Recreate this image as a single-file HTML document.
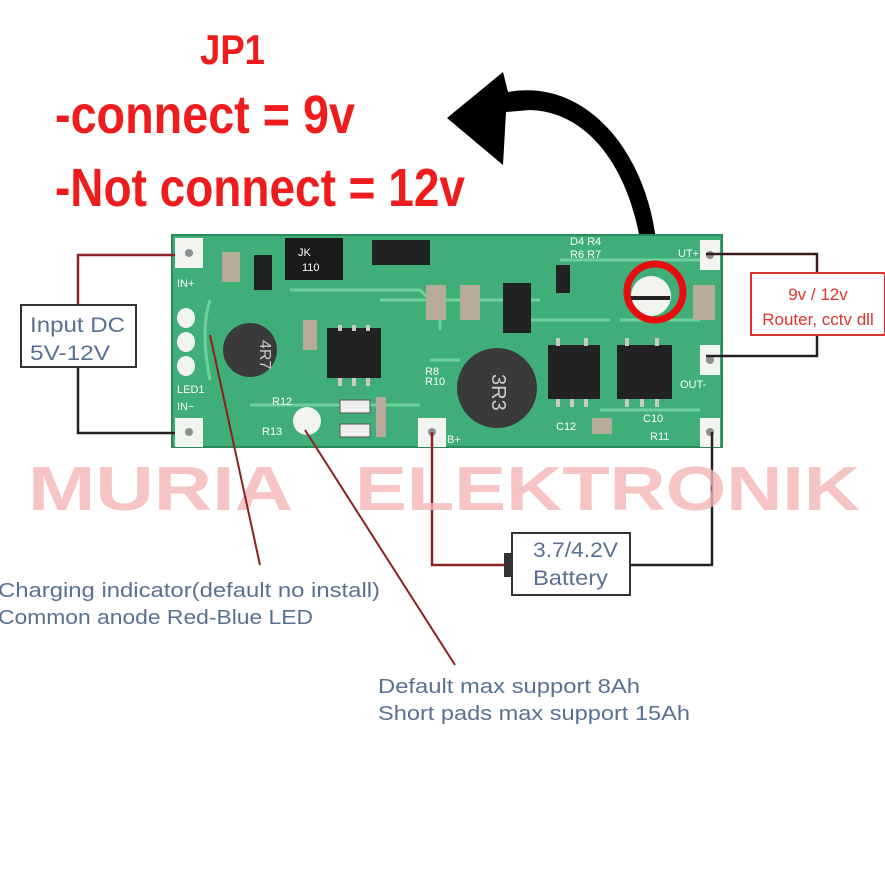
<!DOCTYPE html>
<html><head><meta charset="utf-8"><style>
html,body{margin:0;padding:0;background:#fff;width:885px;height:885px;overflow:hidden}
svg{display:block}
</style></head><body>
<svg width="885" height="885" viewBox="0 0 885 885" xmlns="http://www.w3.org/2000/svg">
<rect width="885" height="885" fill="#fff"/>
<g font-family="Liberation Sans Narrow, Liberation Sans, sans-serif" font-weight="bold" fill="#ee1c1c">
<text x="200" y="64" font-size="42" textLength="65" lengthAdjust="spacingAndGlyphs">JP1</text>
<text x="55" y="133" font-size="54" textLength="300" lengthAdjust="spacingAndGlyphs">-connect = 9v</text>
<text x="55" y="206" font-size="54" textLength="410" lengthAdjust="spacingAndGlyphs">-Not connect = 12v</text>
</g>
<path d="M640 240 C628 170 590 112 530 110 L506 112 L503 165 L447 118 L503 72 L508 92 C585 78 645 150 656 240 Z" fill="#000"/>
<rect x="172" y="235" width="550" height="212" fill="#3fae78" stroke="#2a8a5c" stroke-width="2"/>
<g fill="none" stroke="#6fd09d" stroke-width="3">
<path d="M210 300 Q200 330 210 380"/><path d="M290 290 L420 290 L440 310 L440 330"/><path d="M380 300 L540 300"/><path d="M560 260 L700 260"/><path d="M250 405 L420 405"/><path d="M620 320 L700 320"/><path d="M520 320 L610 320"/><path d="M430 360 L460 360"/><path d="M600 410 L700 410"/>
</g>
<g fill="#f2f4f0">
<rect x="175" y="238" width="28" height="30"/><rect x="175" y="418" width="28" height="29"/>
<rect x="700" y="240" width="20" height="30"/><rect x="700" y="345" width="20" height="30"/><rect x="700" y="418" width="20" height="29"/>
<rect x="418" y="418" width="28" height="29"/>
<ellipse cx="186" cy="318" rx="9" ry="10"/><ellipse cx="186" cy="342" rx="9" ry="10"/><ellipse cx="186" cy="366" rx="9" ry="10"/>
<circle cx="307" cy="421" r="14"/>
<circle cx="651" cy="296" r="20"/>
</g>
<g fill="#8a8f8f"><circle cx="189" cy="253" r="4"/><circle cx="189" cy="432" r="4"/><circle cx="710" cy="255" r="4"/><circle cx="710" cy="360" r="4"/><circle cx="710" cy="432" r="4"/><circle cx="432" cy="432" r="4"/></g>
<g fill="#222">
<rect x="285" y="238" width="58" height="42" fill="#1a1a1a"/>
<rect x="372" y="240" width="58" height="25"/>
<rect x="254" y="255" width="18" height="35"/>
<rect x="327" y="328" width="54" height="50"/>
<rect x="548" y="345" width="52" height="54"/>
<rect x="617" y="345" width="55" height="54"/>
<rect x="503" y="283" width="28" height="50"/>
<rect x="556" y="265" width="14" height="28"/>
<rect x="630" y="296" width="40" height="4"/>
</g>
<g fill="#c9c9c0"><rect x="338" y="325" width="4" height="6"/><rect x="352" y="325" width="4" height="6"/><rect x="366" y="325" width="4" height="6"/>
<rect x="338" y="378" width="4" height="8"/><rect x="352" y="378" width="4" height="8"/><rect x="366" y="378" width="4" height="8"/>
<rect x="556" y="399" width="4" height="8"/><rect x="570" y="399" width="4" height="8"/><rect x="584" y="399" width="4" height="8"/>
<rect x="625" y="399" width="4" height="8"/><rect x="640" y="399" width="4" height="8"/><rect x="655" y="399" width="4" height="8"/>
<rect x="556" y="338" width="4" height="8"/><rect x="584" y="338" width="4" height="8"/><rect x="625" y="338" width="4" height="8"/><rect x="655" y="338" width="4" height="8"/></g>
<g fill="#b8aa98"><rect x="222" y="252" width="18" height="30"/><rect x="426" y="285" width="20" height="35"/><rect x="460" y="285" width="20" height="35"/><rect x="303" y="320" width="14" height="30"/><rect x="376" y="397" width="10" height="40"/><rect x="693" y="285" width="22" height="35"/><rect x="592" y="418" width="20" height="16"/></g>
<g fill="#eee" stroke="#555" stroke-width="1"><rect x="340" y="400" width="30" height="13"/><rect x="340" y="424" width="30" height="13"/></g>
<circle cx="250" cy="350" r="27" fill="#3a3a3a"/>
<circle cx="497" cy="388" r="40" fill="#3a3a3a"/>
<g font-family="Liberation Sans, sans-serif" fill="#fff" font-size="11">
<text x="298" y="256">JK</text><text x="302" y="271">110</text>
<text x="177" y="287">IN+</text><text x="177" y="393">LED1</text><text x="177" y="410">IN−</text>
<text x="678" y="257">UT+</text><text x="680" y="388">OUT-</text><text x="447" y="443">B+</text>
<text x="272" y="405">R12</text><text x="262" y="435">R13</text><text x="425" y="375">R8</text><text x="425" y="385">R10</text>
<text x="570" y="245">D4  R4</text><text x="570" y="258">R6  R7</text><text x="643" y="422">C10</text><text x="650" y="440">R11</text><text x="556" y="430">C12</text>
</g>
<text x="240" y="340" font-family="Liberation Sans, sans-serif" font-size="16" fill="#ccc" transform="rotate(90 250 350)">4R7</text>
<text x="483" y="393" font-family="Liberation Sans, sans-serif" font-size="20" fill="#ccc" transform="rotate(90 497 388)">3R3</text>
<circle cx="655" cy="292" r="28" fill="none" stroke="#e50d0d" stroke-width="7"/>
<g fill="none" stroke-width="2.5">
<path d="M175 255 H78 V305" stroke="#8a2525"/>
<path d="M78 367 V433 H175" stroke="#222"/>
<path d="M706 254 H817 V272" stroke="#3a1a1a"/>
<path d="M817 335 V356 H706" stroke="#222"/>
<path d="M432 432 V565 H505" stroke="#8a2525"/>
<path d="M712 432 V565 H630" stroke="#222"/>
</g>
<rect x="21" y="305" width="115" height="62" fill="#fff" stroke="#333" stroke-width="2"/>
<rect x="751" y="273" width="134" height="62" fill="#fff" stroke="#d33" stroke-width="2"/>
<rect x="512" y="533" width="118" height="62" fill="#fff" stroke="#333" stroke-width="2"/>
<rect x="504" y="553" width="8" height="24" fill="#333"/>
<g font-family="Liberation Sans, sans-serif" fill="#5a7090" font-size="21">
<text x="30" y="332" textLength="95" lengthAdjust="spacingAndGlyphs">Input DC</text><text x="30" y="360" textLength="80" lengthAdjust="spacingAndGlyphs">5V-12V</text>
<text x="533" y="557" textLength="85" lengthAdjust="spacingAndGlyphs">3.7/4.2V</text><text x="533" y="585" textLength="75" lengthAdjust="spacingAndGlyphs">Battery</text>
</g>
<g font-family="Liberation Sans Narrow, Liberation Sans, sans-serif" fill="#d33" font-size="17">
<text x="818" y="300" text-anchor="middle">9v / 12v</text>
<text x="818" y="325" text-anchor="middle">Router, cctv dll</text>
</g>
<g font-family="Liberation Sans, sans-serif" font-weight="900" font-size="62" fill="#f5b5b5" fill-opacity="0.8">
<text x="28" y="510" textLength="265" lengthAdjust="spacingAndGlyphs">MURIA</text>
<text x="355" y="510" textLength="505" lengthAdjust="spacingAndGlyphs">ELEKTRONIK</text>
</g>
<g stroke="#8a2020" stroke-width="2" fill="none">
<path d="M260 565 L210 335"/><path d="M455 665 L305 430"/>
</g>
<g font-family="Liberation Sans, sans-serif" fill="#5a7090" font-size="20">
<text x="-2" y="597" textLength="382" lengthAdjust="spacingAndGlyphs">Charging indicator(default no install)</text>
<text x="-2" y="624" textLength="315" lengthAdjust="spacingAndGlyphs">Common anode Red-Blue LED</text>
<text x="378" y="693" textLength="262" lengthAdjust="spacingAndGlyphs">Default max support 8Ah</text>
<text x="378" y="720" textLength="312" lengthAdjust="spacingAndGlyphs">Short pads max support 15Ah</text>
</g>
</svg>
</body></html>
